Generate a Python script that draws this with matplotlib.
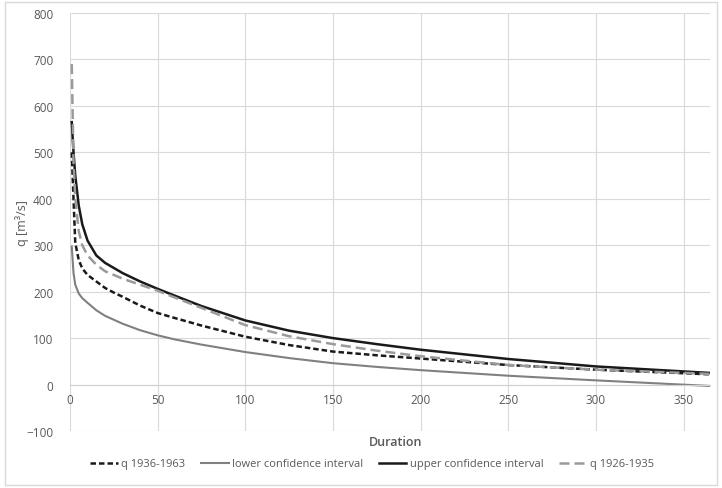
import matplotlib
matplotlib.use("Agg")
import matplotlib.pyplot as plt
from matplotlib.patches import Rectangle

plt.rcParams['font.family'] = ['Open Sans', 'DejaVu Sans']

# Data
x_upper = [1, 2, 3, 5, 7, 10, 15, 20, 30, 40, 50, 60, 75, 100, 125, 150, 175, 200, 250, 300, 365]
upper   = [565, 500, 450, 385, 345, 310, 278, 262, 240, 222, 206, 191, 169, 138, 116, 100, 87, 75, 55, 39, 25]

x_q2635 = [1, 2, 3, 5, 7, 10, 15, 20, 30, 40, 50, 60, 75, 100, 125, 150, 175, 200, 250, 300, 365]
q2635   = [690, 480, 400, 330, 300, 278, 258, 244, 228, 215, 202, 187, 165, 128, 104, 87, 73, 61, 42, 32, 23]

x_q3663 = [1, 2, 3, 5, 7, 10, 15, 20, 25, 30, 40, 50, 60, 75, 100, 125, 150, 175, 200, 250, 300, 365]
q3663   = [500, 400, 305, 268, 250, 236, 222, 208, 198, 189, 170, 154, 143, 127, 103, 85, 71, 63, 56, 42, 32, 22]

x_lower = [1, 2, 3, 5, 7, 10, 15, 20, 30, 40, 50, 60, 75, 100, 125, 150, 175, 200, 250, 300, 365]
lower   = [297, 240, 215, 196, 186, 176, 160, 148, 131, 117, 106, 97, 86, 70, 57, 46, 38, 31, 19, 9, -3]

x_ticks = [0, 50, 100, 150, 200, 250, 300, 350]
y_ticks = [-100, 0, 100, 200, 300, 400, 500, 600, 700, 800]

W, H = 722, 489
fig = plt.figure(figsize=(W / 100, H / 100), dpi=100)
ax = fig.add_axes([70 / W, 1 - 432 / H, (710 - 70) / W, (432 - 14) / H])

tc = '#595959'
l1, = ax.plot(x_q3663, q3663, color='#1a1a1a', lw=1.8, dashes=(2.2, 1.2), label='q 1936-1963')
l2, = ax.plot(x_lower, lower, color='#808080', lw=1.5, label='lower confidence interval')
l3, = ax.plot(x_upper, upper, color='#1a1a1a', lw=1.8, label='upper confidence interval')
l4, = ax.plot(x_q2635, q2635, color='#9a9a9a', lw=1.8, dashes=(4, 2), label='q 1926-1935')

ax.set_xlim(0, 365)
ax.set_ylim(-100, 800)
ax.set_xticks(x_ticks)
ax.set_yticks(y_ticks)
ax.grid(True, color='#d9d9d9', lw=0.8)
ax.set_axisbelow(True)
for s in ['top', 'right', 'left']:
    ax.spines[s].set_visible(False)
ax.spines['bottom'].set_position(('data', 0))
ax.spines['bottom'].set_color('#d0d0d0')
ax.spines['bottom'].set_linewidth(0.8)
ax.tick_params(length=0, labelsize=8.5, labelcolor=tc)
ax.tick_params(axis='y', pad=12)
ax.tick_params(axis='x', pad=6)

fig.text(22 / W, 1 - 223 / H, 'q [m\u00b3/s]', rotation=90, ha='center', va='center',
         fontsize=9, color=tc)
fig.text(396 / W, 1 - 443 / H, 'Duration', ha='center', va='center',
         fontsize=9, color=tc, fontweight='semibold')

fig.legend(handles=[l1, l2, l3, l4], loc='center', bbox_to_anchor=(372 / W, 1 - 465 / H),
           ncol=4, frameon=False, fontsize=8, labelcolor=tc, handlelength=2.5,
           columnspacing=1.4, handletextpad=0.3)

fig.patches.append(Rectangle((5 / W, 3 / H), (717 - 5) / W, (486 - 3) / H,
                             transform=fig.transFigure, fill=False,
                             edgecolor='#d9d9d9', lw=1))

fig.savefig('out.png', dpi=100)
